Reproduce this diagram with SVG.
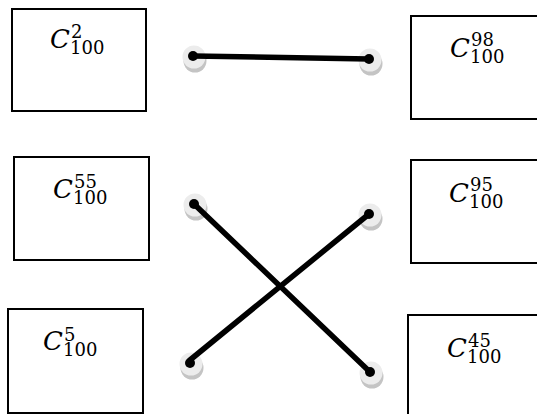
<svg xmlns="http://www.w3.org/2000/svg" width="537" height="414" viewBox="0 0 537 414">
<style>
.box{fill:#fff;stroke:#000;stroke-width:2}
.c{font-family:"DejaVu Serif","Liberation Serif",serif;font-style:italic;font-size:26px;fill:#000}
.s{font-family:"DejaVu Serif","Liberation Serif",serif;font-size:18px;fill:#000}
.halo{fill:#ececec}
.shadow{fill:#c4c4c4}
.dot{fill:#000}
.wire{stroke:#000;stroke-width:5.5;stroke-linecap:round;fill:none}
</style>
<defs>
<g id="pin">
<circle class="shadow" cx="2" cy="5" r="11.5"/>
<circle class="halo" cx="1" cy="1" r="11.5"/>
</g>
</defs>
<rect width="537" height="414" fill="#fff"/>
<g id="n-c2">
<rect class="box" x="12" y="9" width="134" height="102"/>
<text class="c" x="50" y="48">C</text>
<text class="s" x="70" y="54">100</text>
<text class="s" x="71" y="38">2</text>
</g>
<g id="n-c55">
<rect class="box" x="14" y="157" width="135" height="103"/>
<text class="c" x="53" y="198">C</text>
<text class="s" x="73" y="204">100</text>
<text class="s" x="74" y="188">55</text>
</g>
<g id="n-c5">
<rect class="box" x="8" y="309" width="135" height="104"/>
<text class="c" x="43" y="350">C</text>
<text class="s" x="63" y="356">100</text>
<text class="s" x="64" y="341">5</text>
</g>
<g id="n-c98">
<rect class="box" x="411" y="16" width="140" height="103"/>
<text class="c" x="450" y="57">C</text>
<text class="s" x="470" y="63">100</text>
<text class="s" x="471" y="46">98</text>
</g>
<g id="n-c95">
<rect class="box" x="411" y="160" width="140" height="103"/>
<text class="c" x="449" y="202">C</text>
<text class="s" x="469" y="208">100</text>
<text class="s" x="470" y="191">95</text>
</g>
<g id="n-c45">
<rect class="box" x="408" y="315" width="140" height="110"/>
<text class="c" x="447" y="357">C</text>
<text class="s" x="467" y="363">100</text>
<text class="s" x="468" y="347">45</text>
</g>
<g id="pins">
<use href="#pin" x="193" y="56"/>
<use href="#pin" x="369" y="59"/>
<use href="#pin" x="194" y="204"/>
<use href="#pin" x="369" y="214"/>
<use href="#pin" x="190" y="363"/>
<use href="#pin" x="370" y="372"/>
</g>
<g id="connectors">
<line class="wire" x1="193" y1="56" x2="369" y2="59"/>
<line class="wire" x1="194" y1="204" x2="370" y2="372"/>
<line class="wire" x1="190" y1="360" x2="369" y2="214"/>
<circle class="dot" cx="193" cy="56" r="5"/>
<circle class="dot" cx="369" cy="59" r="5"/>
<circle class="dot" cx="194" cy="204" r="5"/>
<circle class="dot" cx="369" cy="214" r="5"/>
<circle class="dot" cx="190" cy="363" r="5"/>
<circle class="dot" cx="370" cy="372" r="5"/>
</g>
</svg>
